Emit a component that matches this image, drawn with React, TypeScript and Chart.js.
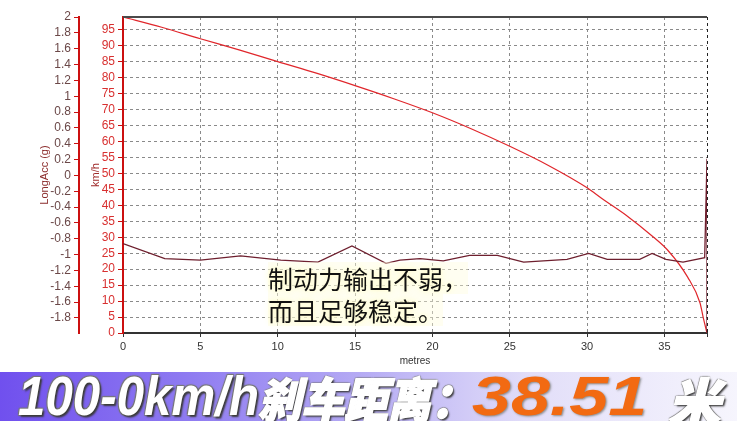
import React, { useEffect, useRef } from 'react';
import { Chart, registerables } from 'chart.js';

Chart.register(...registerables);

// Speed trace (km/h) against distance (metres)
const speedDistance = [0, 2.5, 5, 7.5, 10, 12.5, 15, 17.5, 20, 22.5, 25, 27.5, 30, 31, 32.5, 34.3, 35.2, 36.5, 37.3, 37.5, 37.75];
const speedKmh = [99, 95.8, 92.2, 88.7, 85, 81.4, 77.5, 73.4, 69, 64, 58.5, 52.5, 45.5, 42, 37, 30, 26, 17.5, 9.4, 5, 0];

// Longitudinal acceleration (g) against distance (metres)
const accDistance = [0, 2.7, 5.0, 7.6, 10.2, 12.6, 14.8, 17.0, 17.9, 19.2, 20.7, 22.4, 24.2, 25.9, 28.7, 30.1, 31.3, 33.4, 34.2, 35.1, 36.2, 37.6, 37.75, 37.75];
const accG = [-0.86, -1.05, -1.07, -1.015, -1.07, -1.095, -0.89, -1.11, -1.07, -1.05, -1.08, -1.01, -1.01, -1.095, -1.06, -0.985, -1.06, -1.06, -0.985, -1.06, -1.095, -1.04, 0.21, -2];

const xMax = 37.75;
const xTitle = 'metres';
const speedTitle = 'km/h';
const accTitle = 'LongAcc (g)';
const noteLines = ['制动力输出不弱，', '而且足够稳定。'];
const bannerLead = '100-0km/h';
const bannerCjk = '刹车距离：';
const bannerValue = '38.51';
const bannerUnit = '米';

const topBorder = {
  id: 'topBorder',
  afterDatasetsDraw(chart: any) {
    const { ctx, chartArea } = chart;
    ctx.save();
    ctx.strokeStyle = '#4a4a4a';
    ctx.lineWidth = 2;
    ctx.beginPath();
    ctx.moveTo(chartArea.left, chartArea.top);
    ctx.lineTo(chartArea.right, chartArea.top);
    ctx.stroke();
    ctx.restore();
  },
};

export default function App() {
  const ref = useRef<HTMLCanvasElement | null>(null);

  useEffect(() => {
    if (!ref.current) return;
    const font = { family: '"Liberation Sans", Arial, sans-serif', size: 12 };
    const chart = new Chart(ref.current, {
      type: 'line',
      data: {
        datasets: [
          {
            label: 'LongAcc',
            data: accDistance.map((d, i) => ({ x: d, y: accG[i] })),
            yAxisID: 'yAcc',
            borderColor: '#6e1f2e',
            borderWidth: 1.3,
            pointRadius: 0,
            tension: 0,
          },
          {
            label: 'Speed',
            data: speedDistance.map((d, i) => ({ x: d, y: speedKmh[i] })),
            yAxisID: 'ySpeed',
            borderColor: '#e0262b',
            borderWidth: 1.2,
            pointRadius: 0,
            cubicInterpolationMode: 'monotone',
          },
        ],
      },
      options: {
        animation: false,
        responsive: false,
        devicePixelRatio: 1,
        layout: { padding: { top: 17, right: 30, left: 0, bottom: 0 } },
        plugins: { legend: { display: false }, tooltip: { enabled: false } },
        scales: {
          x: {
            type: 'linear',
            min: 0,
            max: xMax,
            afterFit: (s: any) => { s.height = 35; },
            afterBuildTicks: (s: any) => { s.ticks.push({ value: xMax }); },
            ticks: {
              stepSize: 5,
              includeBounds: false,
              autoSkip: false,
              maxRotation: 0,
              color: '#333',
              font: { ...font, size: 11 },
              padding: 3,
              callback: (v: any) => (Math.abs(v % 5) < 1e-6 ? String(v) : ''),
            },
            grid: {
              color: (c: any) => (c.tick && c.tick.value === 0 ? 'rgba(0,0,0,0)' : (c.tick && c.tick.value === xMax ? '#222' : '#8a8a8a')),
              tickColor: '#333',
              tickLength: 4,
              lineWidth: 1,
            },
            border: { display: true, color: '#333', width: 2, dash: [3, 3] },
            title: { display: true, text: xTitle, color: '#333', font: { ...font, size: 10 }, padding: { top: 0, bottom: 1 } },
          },
          yAcc: {
            type: 'linear',
            position: 'left',
            weight: 1,
            min: -1.99,
            max: 2,
            afterFit: (s: any) => { s.width = 79; },
            ticks: {
              stepSize: 0.2,
              includeBounds: false,
              autoSkip: false,
              color: '#6b4848',
              font,
              padding: 3,
              callback: (v: any) => String(Math.round(v * 10) / 10),
            },
            grid: { drawOnChartArea: false, drawTicks: true, tickColor: '#cc1010', tickLength: 5 },
            border: { display: true, color: '#cc1010', width: 2 },
            title: { display: true, text: accTitle, color: '#8b2b2b', font: { ...font, size: 11 }, padding: { top: 38, bottom: 0 } },
          },
          ySpeed: {
            type: 'linear',
            position: 'left',
            weight: 0,
            min: 0,
            max: 99,
            afterFit: (s: any) => { s.width = 44; },
            ticks: { stepSize: 5, includeBounds: false, autoSkip: false, color: '#d83030', font, padding: 3 },
            grid: {
              color: (c: any) => (c.tick && c.tick.value === 0 ? 'rgba(0,0,0,0)' : '#8a8a8a'),
              tickColor: '#cc1010',
              tickLength: 5,
              lineWidth: 1,
            },
            border: { display: true, color: '#cc1010', width: 2, dash: [3, 3] },
            title: { display: true, text: speedTitle, color: '#a02c2c', font: { ...font, size: 11 }, padding: { top: 10, bottom: 0 } },
          },
        },
      },
      plugins: [topBorder],
    } as any);
    return () => chart.destroy();
  }, []);

  const shadowWhite = '2px 2px 2px #3a3a3a, -1px -1px 1px #777, 1px -1px 1px #777, -1px 1px 1px #777';
  const bannerFont = '"Liberation Sans", "Noto Sans CJK SC", sans-serif';

  return (
    <div style={{ position: 'fixed', left: 0, top: 0, width: 737, height: 421, background: '#fff', overflow: 'hidden' }}>
      <canvas ref={ref} width={737} height={368} style={{ position: 'absolute', left: 0, top: 0, width: 737, height: 368 }} />
      <div
        style={{
          position: 'absolute', left: 268, top: 262, fontFamily: '"Noto Sans CJK SC", sans-serif', fontSize: 25,
          lineHeight: '32px', color: '#111', whiteSpace: 'pre',
          textShadow: '0 0 3px #fffbd2, 0 0 6px #fffbd2, 0 0 8px #fffbd2',
        }}
      >
        {noteLines.map((l, i) => (
          <div key={i} style={{ background: 'rgba(255,252,220,0.4)', display: 'table' }}>{l}</div>
        ))}
      </div>
      <div
        style={{
          position: 'absolute', left: 0, top: 372, width: 737, height: 49, overflow: 'hidden',
          background: 'linear-gradient(90deg, #7050ee 0%, #8e7af1 25%, #b7adf4 50%, #e2def9 72%, #f6f5fd 100%)',
        }}
      >
        <div style={{ position: 'absolute', left: 18, top: -9, fontFamily: bannerFont, fontWeight: 900, fontStyle: 'italic', fontSize: 56, color: '#fff', whiteSpace: 'nowrap', transform: 'scaleX(0.88)', transformOrigin: 'left', textShadow: shadowWhite }}>{bannerLead}</div>
        <div style={{ position: 'absolute', left: 258, top: -10, fontFamily: '"Noto Sans CJK SC", sans-serif', fontWeight: 900, fontStyle: 'italic', fontSize: 48, color: '#fff', whiteSpace: 'nowrap', transform: 'scaleX(0.9)', transformOrigin: 'left', textShadow: shadowWhite, WebkitTextStroke: '1.5px #fff' } as any}>{bannerCjk}</div>
        <div style={{ position: 'absolute', left: 472, top: -9, fontFamily: bannerFont, fontWeight: 900, fontStyle: 'italic', fontSize: 56, color: '#f26a12', whiteSpace: 'nowrap', transform: 'scaleX(1.25)', transformOrigin: 'left', textShadow: '1px 1px 2px #8a8a8a' }}>{bannerValue}</div>
        <div style={{ position: 'absolute', left: 668, top: -10, fontFamily: '"Noto Sans CJK SC", sans-serif', fontWeight: 900, fontStyle: 'italic', fontSize: 52, color: '#fff', whiteSpace: 'nowrap', textShadow: shadowWhite, WebkitTextStroke: '1.5px #fff' } as any}>{bannerUnit}</div>
      </div>
    </div>
  );
}
